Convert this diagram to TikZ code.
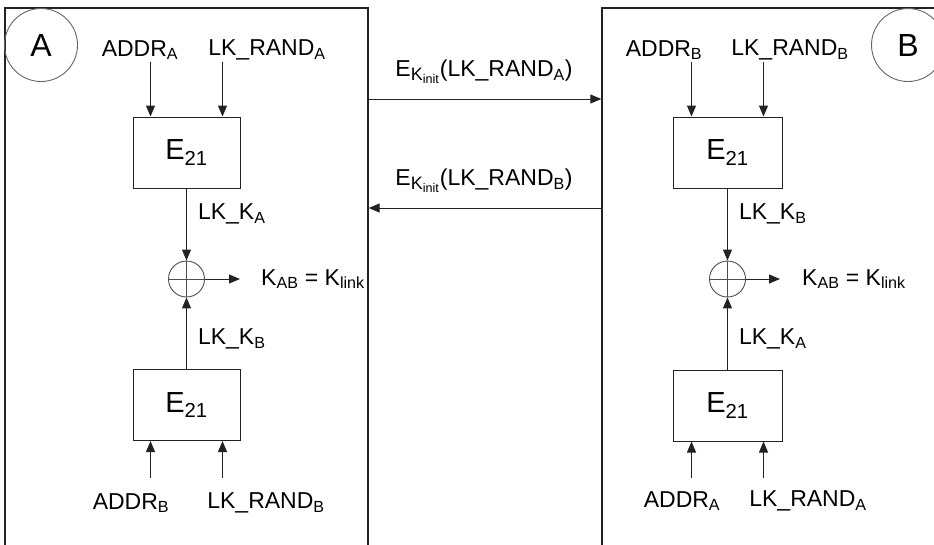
\documentclass[tikz,border=0pt]{standalone}
\usepackage{fontspec}
\setmainfont{Liberation Sans}
\usetikzlibrary{positioning,arrows.meta,calc}
\definecolor{ink}{HTML}{222222}
\newcommand{\kinit}{\textsubscript{\fontsize{18}{20}\selectfont K\textsubscript{init}}}

\begin{document}
\begin{tikzpicture}[x=1pt, y=-1pt,
        frame/.style={draw=ink, line width=1.3pt, minimum width=363pt, minimum height=552pt},
        party/.style={circle, draw=ink!70, line width=0.9pt, minimum size=73pt, inner sep=0pt,
                      font=\fontsize{32}{36}\selectfont},
        blk/.style={draw=ink, line width=1pt, minimum width=107pt, minimum height=71pt,
                    inner sep=0pt, font=\fontsize{29}{33}\selectfont},
        xor/.style={circle, draw=ink!80, line width=0.9pt, minimum size=36pt, inner sep=0pt},
        lbl/.style={inner sep=1pt, font=\fontsize{23}{27}\selectfont},
        arr/.style={draw=ink, line width=1pt, -{Triangle[length=11pt,width=9pt]}},
      ]
        \useasboundingbox (0,0) rectangle (934,544);

        % Frames of the two devices (open at the bottom of the page)
        \node[frame] (frameA) at (186.5,284) {};
        \node[frame, minimum width=348pt] (frameB) at (776,284) {};
        \node[party] (circA) at (41,45) {A};
        \node[party] (circB) at (908,45) {B};

        % Messages exchanged
        \coordinate (yAB) at (0,99);
        \coordinate (yBA) at (0,208);
        \node[lbl] (msgA) at (484,72) {E\kinit(LK\_RAND\textsubscript{A})};
        \node[lbl] (msgB) at (484,181) {E\kinit(LK\_RAND\textsubscript{B})};
        \draw[arr] (frameA.east |- yAB) -- (frameB.west |- yAB);
        \draw[arr] (frameB.west |- yBA) -- (frameA.east |- yBA);

        % Device A
        \node[blk] (eAt) at (186.5,152.5) {E\textsubscript{21}};
        \node[blk] (eAb) at (186.5,405) {E\textsubscript{21}};
        \node[xor] (xorA) at (186.5,279) {};
        \draw[ink!80, line width=0.9pt] (xorA.north) -- (xorA.south) (xorA.west) -- (xorA.east);
        \node[lbl] (addrAt) at (140,50) {ADDR\textsubscript{A}};
        \node[lbl] (randAt) at (267,50) {LK\_RAND\textsubscript{A}};
        \node[lbl] (addrAb) at (131,503) {ADDR\textsubscript{B}};
        \node[lbl] (randAb) at (266,503) {LK\_RAND\textsubscript{B}};
        \draw[arr] ([xshift=-36pt]eAt.north |- 0,62) -- ([xshift=-36pt]eAt.north);
        \draw[arr] ([xshift=36pt]eAt.north |- 0,62) -- ([xshift=36pt]eAt.north);
        \draw[arr] ([xshift=-36pt]eAb.south |- 0,478) -- ([xshift=-36pt]eAb.south);
        \draw[arr] ([xshift=36pt]eAb.south |- 0,478) -- ([xshift=36pt]eAb.south);
        \draw[arr] (eAt.south) -- node[lbl, right=10pt, pos=0.35] (kAa) {LK\_K\textsubscript{A}} (xorA.north);
        \draw[arr] (eAb.north) -- node[lbl, right=10pt, pos=0.42] (kAb) {LK\_K\textsubscript{B}} (xorA.south);
        \coordinate (outA) at (240,279);
        \draw[arr] (xorA.east) -- (outA);
        \node[lbl, anchor=west] (linkA) at (260,279) {K\textsubscript{AB} = K\textsubscript{link}};

        % Device B
        \node[blk, minimum width=109pt] (eBt) at (727.5,152.5) {E\textsubscript{21}};
        \node[blk, minimum width=109pt] (eBb) at (727.5,405.5) {E\textsubscript{21}};
        \node[xor] (xorB) at (727.5,279) {};
        \draw[ink!80, line width=0.9pt] (xorB.north) -- (xorB.south) (xorB.west) -- (xorB.east);
        \node[lbl] (addrBt) at (664,50) {ADDR\textsubscript{B}};
        \node[lbl] (randBt) at (790,50) {LK\_RAND\textsubscript{B}};
        \node[lbl] (addrBb) at (682,501) {ADDR\textsubscript{A}};
        \node[lbl] (randBb) at (808,501) {LK\_RAND\textsubscript{A}};
        \draw[arr] ([xshift=-36pt]eBt.north |- 0,62) -- ([xshift=-36pt]eBt.north);
        \draw[arr] ([xshift=36pt]eBt.north |- 0,62) -- ([xshift=36pt]eBt.north);
        \draw[arr] ([xshift=-36pt]eBb.south |- 0,478) -- ([xshift=-36pt]eBb.south);
        \draw[arr] ([xshift=36pt]eBb.south |- 0,478) -- ([xshift=36pt]eBb.south);
        \draw[arr] (eBt.south) -- node[lbl, right=10pt, pos=0.35] (kBa) {LK\_K\textsubscript{B}} (xorB.north);
        \draw[arr] (eBb.north) -- node[lbl, right=10pt, pos=0.42] (kBb) {LK\_K\textsubscript{A}} (xorB.south);
        \coordinate (outB) at (780,279);
        \draw[arr] (xorB.east) -- (outB);
        \node[lbl, anchor=west] (linkB) at (801,279) {K\textsubscript{AB} = K\textsubscript{link}};
      \end{tikzpicture}
\end{document}
